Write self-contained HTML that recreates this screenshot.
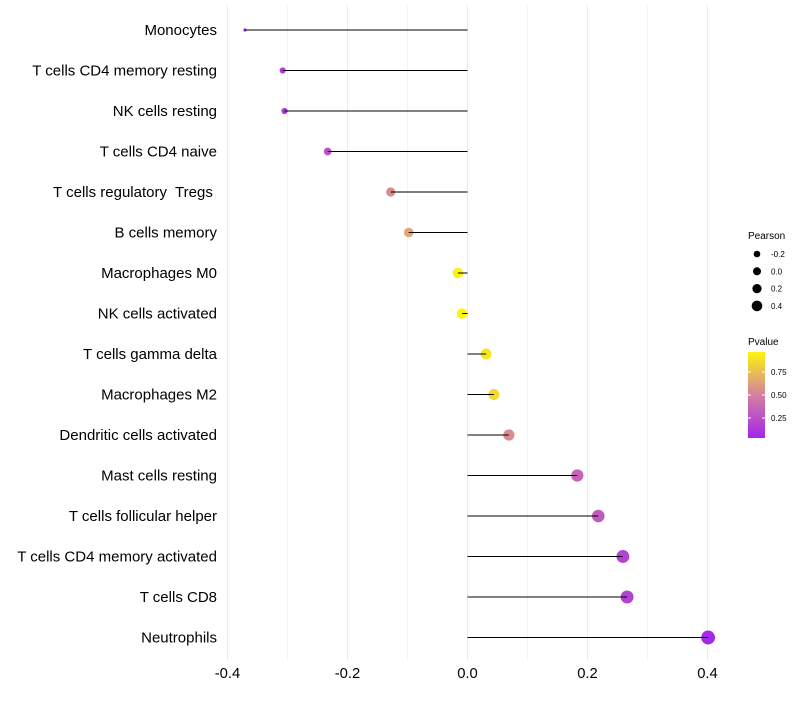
<!DOCTYPE html>
<html><head><meta charset="utf-8"><style>
body{margin:0;background:#fff;font-family:"Liberation Sans",sans-serif}
svg text{font-family:"Liberation Sans",sans-serif;white-space:pre}
</style></head><body>
<svg id="chart" width="800" height="700"></svg>
<script>
const categories=["Monocytes","T cells CD4 memory resting","NK cells resting","T cells CD4 naive","T cells regulatory  Tregs ","B cells memory","Macrophages M0","NK cells activated","T cells gamma delta","Macrophages M2","Dendritic cells activated","Mast cells resting","T cells follicular helper","T cells CD4 memory activated","T cells CD8","Neutrophils"];
const pearson=[-0.371,-0.308,-0.305,-0.233,-0.128,-0.098,-0.016,-0.009,0.031,0.044,0.069,0.183,0.218,0.259,0.266,0.401];
const pvalues=[0.08,0.15,0.15,0.25,0.55,0.65,0.95,0.97,0.9,0.85,0.55,0.35,0.3,0.18,0.18,0.05];
const xTicks=[-0.4,-0.2,0.0,0.2,0.4];
const xTickLabels=["-0.4","-0.2","0.0","0.2","0.4"];
const sizeLegend=[-0.2,0.0,0.2,0.4];
const sizeLegendLabels=["-0.2","0.0","0.2","0.4"];
const colorTicks=[0.25,0.5,0.75];
const colorTickLabels=["0.25","0.50","0.75"];

const NS="http://www.w3.org/2000/svg";
const svg=document.getElementById('chart');
function el(t,a,p){const e=document.createElementNS(NS,t);for(const k in a)e.setAttribute(k,a[k]);(p||svg).appendChild(e);return e;}
const x=v=>467.5+v*600;
const y=i=>30+i*40.5;
const r=v=>Math.min(7,1.6+Math.sqrt(Math.max(0,v+0.37))*6.1);
function lerp(a,b,t){return a.map((c,i)=>Math.round(c+(b[i]-c)*t));}
function col(p){const s=[[160,32,240],[213,128,160],[255,255,0]];let c=p<0.5?lerp(s[0],s[1],p/0.5):lerp(s[1],s[2],(p-0.5)/0.5);return `rgb(${c.join(',')})`;}

for(let v=-0.4;v<=0.401;v+=0.1){
  const g=el('line',{x1:x(v),x2:x(v),y1:5,y2:660,stroke:'#ebebeb','stroke-width':Math.abs(Math.round(v*10))%2===0?1:0.6});
  
  
}
xTicks.forEach((v,i)=>{
  const t=el('text',{x:x(v),y:678,'text-anchor':'middle','font-size':14.8,fill:'#000'});
  t.textContent=xTickLabels[i];
  
  
});
categories.forEach((c,i)=>{
  const t=el('text',{x:217,y:y(i)+5,'text-anchor':'end','font-size':15,fill:'#000'});
  t.textContent=c;
  
  
  const p=el('circle',{cx:x(pearson[i]),cy:y(i),r:r(pearson[i]),fill:col(pvalues[i])});
  
  
  const l=el('line',{x1:x(0),x2:x(pearson[i]),y1:y(i),y2:y(i),stroke:'#000','stroke-width':1});
  
  
});
const lt=el('text',{x:748,y:239,'font-size':10,fill:'#000'});lt.textContent='Pearson';


const legR=[3.3,4,4.6,5.3];
sizeLegend.forEach((v,i)=>{
  const cy=254+i*17.3;
  const c=el('circle',{cx:757,cy:cy,r:legR[i],fill:'#000'});
  
  
  const t=el('text',{x:771,y:cy+3,'font-size':8,fill:'#000'});t.textContent=sizeLegendLabels[i];
  
  
});
const ct=el('text',{x:748,y:345,'font-size':10,fill:'#000'});ct.textContent='Pvalue';


const defs=el('defs',{});
const gr=el('linearGradient',{id:'pg',x1:0,y1:1,x2:0,y2:0},defs);
[0,0.25,0.5,0.75,1].forEach(s=>el('stop',{offset:s,'stop-color':col(0.03+s*0.93)},gr));
const cb=el('rect',{x:748,y:352,width:17,height:86,fill:'url(#pg)'});


const py=p=>441-p*92;
colorTicks.forEach((v,i)=>{
  el('line',{x1:748,x2:751,y1:py(v),y2:py(v),stroke:'#fff'});
  el('line',{x1:762,x2:765,y1:py(v),y2:py(v),stroke:'#fff'});
  const t=el('text',{x:771,y:py(v)+3,'font-size':8,fill:'#000'});t.textContent=colorTickLabels[i];
  
  
});
</script>
</body></html>
